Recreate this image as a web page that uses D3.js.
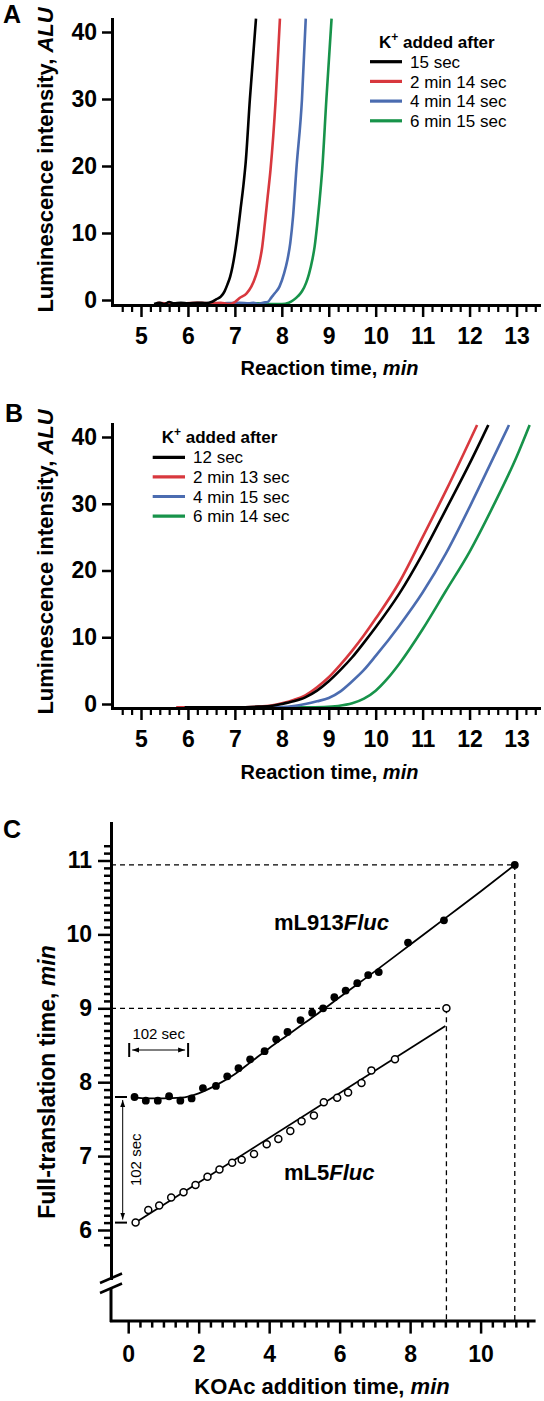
<!DOCTYPE html>
<html><head><meta charset="utf-8">
<script src="https://cdn.jsdelivr.net/npm/d3@7"></script>
<style>
body{margin:0;background:#fff}
svg{display:block}
text{font-family:"Liberation Sans",Arial,Helvetica,sans-serif;fill:#000}
</style>
</head><body>
<svg id="c" width="544" height="1401"></svg>
<script>
// ---------------- DATA ----------------
const seriesColors = ["#000000", "#d8383e", "#4b6cb0", "#17934a"];
const legendA = ["15 sec", "2 min 14 sec", "4 min 14 sec", "6 min 15 sec"];
const legendB = ["12 sec", "2 min 13 sec", "4 min 15 sec", "6 min 14 sec"];
const xTicksAB = [5, 6, 7, 8, 9, 10, 11, 12, 13];
const yTicksAB = [0, 10, 20, 30, 40];

// Panel A curves [reaction time (min), luminescence (ALU)]
const aBlack = [[5.28,-0.6],[5.4,-0.4],[5.5,-0.6],[5.6,-0.3],[5.7,-0.5],[5.85,-0.4],[6.0,-0.5],[6.2,-0.4],[6.4,-0.45],[6.5,-0.3],[6.6,0.1],[6.7,0.5],[6.78,1.3],[6.84,2.3],[6.9,3.5],[6.95,5.0],[7.0,7.0],[7.06,10],[7.12,13.5],[7.18,17],[7.23,20.5],[7.32,30],[7.45,42]];
const aRed = [[5.35,-0.4],[5.6,-0.5],[5.9,-0.5],[6.2,-0.4],[6.5,-0.5],[6.7,-0.4],[6.85,-0.6],[7.0,-0.3],[7.1,0.3],[7.25,1.0],[7.35,2.0],[7.45,3.7],[7.52,5.5],[7.58,7.8],[7.64,11.5],[7.7,15.5],[7.76,19.5],[7.87,30],[7.96,42]];
const aBlue = [[5.4,-0.5],[6.0,-0.5],[6.6,-0.5],[7.1,-0.4],[7.3,-0.5],[7.4,-0.4],[7.5,-0.6],[7.6,-0.4],[7.7,-0.3],[7.78,0.4],[7.85,1.0],[7.95,2.0],[8.05,4.0],[8.12,6.0],[8.18,8.5],[8.24,12.5],[8.31,19.5],[8.43,30],[8.51,42]];
const aGreen = [[5.4,-0.5],[6.5,-0.5],[7.5,-0.5],[7.8,-0.6],[8.0,-0.6],[8.15,-0.4],[8.25,0.0],[8.35,0.6],[8.43,1.3],[8.52,2.6],[8.58,3.9],[8.65,6.0],[8.7,8.0],[8.75,11.0],[8.8,14.5],[8.86,19.4],[8.95,30],[9.06,42]];

// Panel B curves
const bBlack = [[5.93,-0.5],[6.5,-0.5],[7.0,-0.5],[7.5,-0.4],[7.8,-0.25],[8.0,0.0],[8.25,0.4],[8.5,1.0],[8.75,2.0],[9.0,3.4],[9.25,5.1],[9.5,7.0],[9.75,9.2],[10.0,11.5],[10.5,16.5],[11.0,22.5],[11.5,29.2],[12.0,36.0],[12.4,41.8]];
const bRed = [[5.75,-0.5],[6.5,-0.5],[7.0,-0.5],[7.5,-0.4],[7.8,-0.2],[8.0,0.1],[8.25,0.6],[8.5,1.3],[8.75,2.5],[9.0,4.0],[9.25,5.9],[9.5,8.0],[9.75,10.3],[10.0,12.8],[10.5,18.2],[11.0,25.0],[11.5,32.0],[12.16,41.8]];
const bBlue = [[5.95,-0.5],[7.0,-0.5],[7.5,-0.5],[8.0,-0.45],[8.25,-0.3],[8.5,0.0],[8.75,0.4],[9.0,0.9],[9.25,1.9],[9.5,3.4],[9.75,5.1],[10.0,7.2],[10.5,11.7],[11.0,16.7],[11.5,22.6],[12.0,29.5],[12.5,36.8],[12.84,41.8]];
const bGreen = [[5.95,-0.5],[7.0,-0.5],[8.0,-0.5],[8.5,-0.5],[8.9,-0.45],[9.2,-0.3],[9.5,0.1],[9.75,0.8],[10.0,2.0],[10.25,3.8],[10.5,6.0],[11.0,11.2],[11.5,17.0],[12.0,22.8],[12.5,29.6],[13.0,37.0],[13.28,41.8]];

// Panel C
const xTicksC = [0, 2, 4, 6, 8, 10];
const yTicksC = [6, 7, 8, 9, 10, 11];
const c913X = [0.18,0.5,0.84,1.16,1.48,1.8,2.12,2.49,2.81,3.13,3.46,3.87,4.2,4.52,4.89,5.22,5.53,5.85,6.17,6.5,6.81,7.11,7.94,8.96,10.97];
const c913Y = [7.80,7.75,7.75,7.81,7.75,7.78,7.92,7.95,8.08,8.19,8.31,8.42,8.58,8.68,8.84,8.94,9.00,9.15,9.24,9.34,9.45,9.49,9.89,10.19,10.94];
const c913FitX = [0.2,0.5,1.0,1.5,2.0,2.5,3.0,3.5,4.0,4.5,5.0,5.5,6.0,7.0,8.0,9.0,10.0,10.97];
const c913FitY = [7.79,7.78,7.78,7.79,7.85,7.96,8.10,8.28,8.46,8.63,8.80,8.97,9.15,9.50,9.86,10.22,10.58,10.94];
const c5X = [0.21,0.57,0.88,1.22,1.57,1.91,2.25,2.59,2.95,3.22,3.57,3.93,4.26,4.6,4.92,5.27,5.55,5.93,6.24,6.62,6.9,7.57,9.03];
const c5Y = [6.10,6.27,6.33,6.44,6.51,6.61,6.72,6.82,6.91,6.95,7.03,7.16,7.23,7.34,7.47,7.55,7.73,7.79,7.86,7.99,8.16,8.31,9.00];
const c5FitX = [0.21, 9.0];
const c5FitY = [6.10, 8.76];
const guideX = [9.03, 10.97];
const guideY = [9.00, 10.94];
const bracketSpan = [0, 1.7];        // 102 sec along x
const bracketLevels = [6.10, 7.80];  // 102 sec along y

// ---------------- DRAW ----------------
const svg = d3.select("#c");
const FF = '"Liberation Sans",Arial,Helvetica,sans-serif';

function styleAxis(sel, fs) {
  sel.select(".domain").attr("stroke", "#000").attr("stroke-width", 3).attr("stroke-linecap", "square");
  sel.selectAll(".tick line").attr("stroke", "#000").attr("stroke-width", 2.5);
  sel.selectAll(".tick text").attr("font-size", fs).attr("font-weight", "bold").attr("font-family", FF).attr("fill", "#000");
}

function drawAB(p) {
  const g = svg.append("g");
  const x = d3.scaleLinear().domain([5, 13]).range([141, 516.5]);
  const y = d3.scaleLinear().domain([0, 40]).range([p.y0, p.y40]);
  const xL = 112, xR = 539;
  const xa = x.copy().domain([x.invert(xL), x.invert(xR)]).range([xL, xR]);
  const yTopPx = p.y40 - 13;
  const ya = y.copy().domain([y.invert(p.axisY), y.invert(yTopPx)]).range([p.axisY, yTopPx]);

  const line = d3.line().x(d => x(d[0])).y(d => y(d[1])).curve(d3.curveMonotoneX);
  const order = [3, 2, 1, 0];
  order.forEach(i => {
    g.append("path").attr("d", line(p.series[i])).attr("fill", "none")
      .attr("stroke", seriesColors[i]).attr("stroke-width", 2.6).attr("stroke-linejoin", "round");
  });

  // x axis
  const minor = d3.range(4.6, 13.45, 0.2).filter(v => Math.abs(v - Math.round(v)) > 0.05);
  g.append("g").attr("transform", `translate(0,${p.axisY})`)
    .call(d3.axisBottom(xa).tickValues(minor).tickSize(7).tickFormat(""))
    .call(s => { s.select(".domain").remove(); s.selectAll(".tick line").attr("stroke", "#000").attr("stroke-width", 2.2); });
  g.append("g").attr("transform", `translate(0,${p.axisY})`)
    .call(d3.axisBottom(xa).tickValues(xTicksAB).tickSize(12).tickSizeOuter(0).tickPadding(11))
    .call(s => styleAxis(s, 23));
  // y axis
  g.append("g").attr("transform", `translate(${xL},0)`)
    .call(d3.axisLeft(ya).tickValues(yTicksAB).tickSize(10).tickSizeOuter(0).tickPadding(5))
    .call(s => styleAxis(s, 23));

  // titles
  const xt = g.append("text").attr("x", 329.5).attr("y", p.titleY).attr("text-anchor", "middle")
    .attr("font-size", 20).attr("font-weight", "bold");
  xt.append("tspan").text("Reaction time, ");
  xt.append("tspan").attr("font-style", "italic").text("min");

  const yt = g.append("text").attr("transform", `translate(53,${p.yTitleC}) rotate(-90)`)
    .attr("text-anchor", "middle").attr("font-size", 22).attr("font-weight", "bold");
  yt.append("tspan").text("Luminescence intensity, ");
  yt.append("tspan").attr("font-style", "italic").text("ALU");

  // panel letter
  g.append("text").attr("x", p.letterX).attr("y", p.letterY).attr("font-size", 25).attr("font-weight", "bold").text(p.letter);

  // legend
  const lt = g.append("text").attr("x", p.legTitleX).attr("y", p.legTitleY).attr("font-size", 17).attr("font-weight", "bold");
  lt.append("tspan").text("K");
  lt.append("tspan").attr("font-size", 12).attr("dy", -7).text("+");
  lt.append("tspan").attr("dy", 7).text(" added after");
  p.legend.forEach((lab, i) => {
    const yy = p.legY0 + i * p.legStep;
    g.append("line").attr("x1", p.legX1).attr("x2", p.legX2).attr("y1", yy).attr("y2", yy)
      .attr("stroke", seriesColors[i]).attr("stroke-width", 3.2);
    g.append("text").attr("x", p.legX2 + 8).attr("y", yy).attr("dy", "0.36em").attr("font-size", 17).text(lab);
  });
}

drawAB({
  series: [aBlack, aRed, aBlue, aGreen], legend: legendA,
  y0: 300, y40: 32, axisY: 305, titleY: 375, yTitleC: 160,
  letter: "A", letterX: 3, letterY: 23,
  legTitleX: 379, legTitleY: 48, legX1: 370, legX2: 402, legY0: 61.7, legStep: 19.7
});
drawAB({
  series: [bBlack, bRed, bBlue, bGreen], legend: legendB,
  y0: 704, y40: 437, axisY: 708, titleY: 779, yTitleC: 562,
  letter: "B", letterX: 5, letterY: 422,
  legTitleX: 161.7, legTitleY: 443, legX1: 152.7, legX2: 185, legY0: 457.3, legStep: 19.6
});

// ---------- Panel C ----------
(function () {
  const g = svg.append("g");
  const x = d3.scaleLinear().domain([0, 10]).range([128.2, 480.6]);
  const y = d3.scaleLinear().domain([6, 11]).range([1230, 860.5]);
  const xL = 111, xR = 533.6, axisY = 1320.6, yTop = 823;
  const xa = x.copy().domain([x.invert(xL), x.invert(xR)]).range([xL, xR]);

  // guide dashed lines
  const dash = "5,4";
  for (let i = 0; i < guideX.length; i++) {
    g.append("line").attr("x1", xL).attr("x2", x(guideX[i])).attr("y1", y(guideY[i])).attr("y2", y(guideY[i]))
      .attr("stroke", "#000").attr("stroke-width", 1.3).attr("stroke-dasharray", dash);
    g.append("line").attr("x1", x(guideX[i])).attr("x2", x(guideX[i])).attr("y1", y(guideY[i])).attr("y2", axisY)
      .attr("stroke", "#000").attr("stroke-width", 1.3).attr("stroke-dasharray", dash);
  }

  // fit lines
  const line = d3.line().x(d => x(d[0])).y(d => y(d[1])).curve(d3.curveMonotoneX);
  g.append("path").attr("d", line(c913FitX.map((v, i) => [v, c913FitY[i]]))).attr("fill", "none").attr("stroke", "#000").attr("stroke-width", 1.8);
  g.append("path").attr("d", line(c5FitX.map((v, i) => [v, c5FitY[i]]))).attr("fill", "none").attr("stroke", "#000").attr("stroke-width", 1.8);

  // points
  g.selectAll("circle.f").data(c913X.map((v, i) => [v, c913Y[i]])).join("circle")
    .attr("cx", d => x(d[0])).attr("cy", d => y(d[1])).attr("r", 3.9).attr("fill", "#000");
  g.selectAll("circle.o").data(c5X.map((v, i) => [v, c5Y[i]])).join("circle")
    .attr("cx", d => x(d[0])).attr("cy", d => y(d[1])).attr("r", 3.5).attr("fill", "#fff").attr("stroke", "#000").attr("stroke-width", 1.5);

  // x axis
  const minor = d3.range(0, 11.4, 1 / 3).filter(v => Math.abs(v / 2 - Math.round(v / 2)) > 0.01);
  g.append("g").attr("transform", `translate(0,${axisY})`)
    .call(d3.axisBottom(xa).tickValues(minor).tickSize(7).tickFormat(""))
    .call(s => { s.select(".domain").remove(); s.selectAll(".tick line").attr("stroke", "#000").attr("stroke-width", 2.5); });
  g.append("g").attr("transform", `translate(0,${axisY})`)
    .call(d3.axisBottom(xa).tickValues(xTicksC).tickSize(13).tickSizeOuter(0).tickPadding(12).tickFormat(d3.format("d")))
    .call(s => styleAxis(s, 23));

  // y axis (with break)
  const breakTop = 1278, breakBot = 1288;
  const yMinor = d3.range(5.8, 11.25, 0.1).filter(v => Math.abs(v - Math.round(v)) > 0.02);
  const ya = y.copy().domain([y.invert(breakTop), y.invert(yTop)]).range([breakTop, yTop]);
  g.append("g").attr("transform", `translate(${xL},0)`)
    .call(d3.axisLeft(ya).tickValues(yMinor).tickSize(7).tickFormat("").tickSizeOuter(0))
    .call(s => { s.select(".domain").attr("stroke", "#000").attr("stroke-width", 3); s.selectAll(".tick line").attr("stroke", "#000").attr("stroke-width", 2.5); });
  g.append("g").attr("transform", `translate(${xL},0)`)
    .call(d3.axisLeft(ya).tickValues(yTicksC).tickSize(13).tickSizeOuter(0).tickPadding(6).tickFormat(d3.format("d")))
    .call(s => styleAxis(s, 23));
  g.append("line").attr("x1", xL).attr("x2", xL).attr("y1", breakBot).attr("y2", axisY + 1.5).attr("stroke", "#000").attr("stroke-width", 3);
  g.append("line").attr("x1", 100).attr("x2", 122).attr("y1", breakTop + 5).attr("y2", breakTop - 4.5).attr("stroke", "#000").attr("stroke-width", 2.5);
  g.append("line").attr("x1", 100).attr("x2", 122).attr("y1", breakBot + 5).attr("y2", breakBot - 4.5).attr("stroke", "#000").attr("stroke-width", 2.5);

  // titles
  const xt = g.append("text").attr("x", 322).attr("y", 1394).attr("text-anchor", "middle").attr("font-size", 22).attr("font-weight", "bold");
  xt.append("tspan").text("KOAc addition time, ");
  xt.append("tspan").attr("font-style", "italic").text("min");
  const yt = g.append("text").attr("transform", `translate(55,1082) rotate(-90)`).attr("text-anchor", "middle").attr("font-size", 23).attr("font-weight", "bold");
  yt.append("tspan").text("Full-translation time, ");
  yt.append("tspan").attr("font-style", "italic").text("min");
  g.append("text").attr("x", 3).attr("y", 838).attr("font-size", 25).attr("font-weight", "bold").text("C");

  // series labels
  const l1 = g.append("text").attr("x", 274).attr("y", 930).attr("font-size", 22).attr("font-weight", "bold");
  l1.append("tspan").text("mL913");
  l1.append("tspan").attr("font-style", "italic").text("Fluc");
  const l2 = g.append("text").attr("x", 284).attr("y", 1180).attr("font-size", 22).attr("font-weight", "bold");
  l2.append("tspan").text("mL5");
  l2.append("tspan").attr("font-style", "italic").text("Fluc");

  // arrow markers
  const defs = svg.append("defs");
  defs.append("marker").attr("id", "ah").attr("viewBox", "0 0 10 10").attr("refX", 10).attr("refY", 5)
    .attr("markerWidth", 7).attr("markerHeight", 7).attr("orient", "auto-start-reverse")
    .append("path").attr("d", "M0,1.5 L10,5 L0,8.5 Z").attr("fill", "#000");

  // 102 sec horizontal bracket
  const bx0 = x(bracketSpan[0]) + 1, bx1 = x(bracketSpan[1]);
  const by = 1050;
  [bx0, bx1].forEach(v => g.append("line").attr("x1", v).attr("x2", v).attr("y1", by - 7).attr("y2", by + 7).attr("stroke", "#000").attr("stroke-width", 2));
  g.append("line").attr("x1", bx0 + 3).attr("x2", bx1 - 3).attr("y1", by).attr("y2", by).attr("stroke", "#000").attr("stroke-width", 1)
    .attr("marker-start", "url(#ah)").attr("marker-end", "url(#ah)");
  g.append("text").attr("x", (bx0 + bx1) / 2).attr("y", 1038.5).attr("text-anchor", "middle").attr("font-size", 15).text("102 sec");

  // 102 sec vertical bracket
  const vy0 = y(bracketLevels[1]), vy1 = y(bracketLevels[0]);
  [vy0, vy1].forEach(v => g.append("line").attr("x1", 115).attr("x2", 127).attr("y1", v).attr("y2", v).attr("stroke", "#000").attr("stroke-width", 2));
  g.append("line").attr("x1", 122.7).attr("x2", 122.7).attr("y1", vy0 + 3).attr("y2", vy1 - 3).attr("stroke", "#000").attr("stroke-width", 1)
    .attr("marker-start", "url(#ah)").attr("marker-end", "url(#ah)");
  g.append("text").attr("transform", `translate(140.5,${(vy0 + vy1) / 2}) rotate(-90)`).attr("text-anchor", "middle").attr("font-size", 15).text("102 sec");
})();
</script>
</body></html>
